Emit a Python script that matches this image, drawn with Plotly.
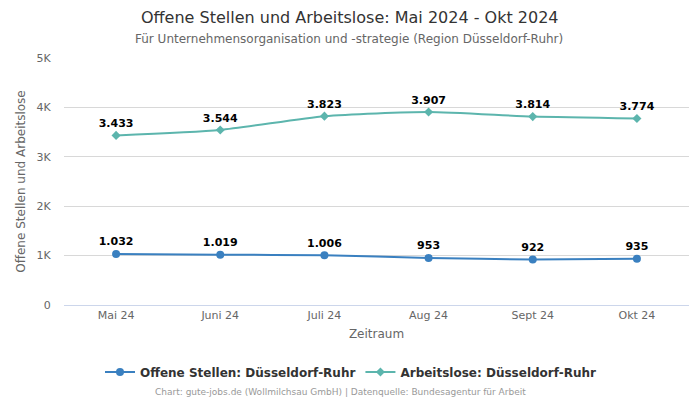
import plotly.graph_objects as go

months = ["Mai 24", "Juni 24", "Juli 24", "Aug 24", "Sept 24", "Okt 24"]
offene = [1032, 1019, 1006, 953, 922, 935]
arbeitslose = [3433, 3544, 3823, 3907, 3814, 3774]
ytick_vals = [0, 1000, 2000, 3000, 4000, 5000]
ytick_text = ["0", "1K", "2K", "3K", "4K", "5K"]

def fmt(v):
    return f"{v:,}".replace(",", ".")

font = "DejaVu Sans"
T, B, L, R = 58, 95, 64, 11
PH = 400 - T - B
PW = 700 - L - R

def py(pix):
    return (400 - B - pix) / PH

def px(pix):
    return (pix - L) / PW

fig = go.Figure()
fig.add_trace(go.Scatter(
    x=months, y=offene, name="Offene Stellen: Düsseldorf-Ruhr",
    mode="lines+markers+text", line=dict(color="#3a80c0", width=2, shape="spline", smoothing=0.6),
    marker=dict(size=8, symbol="circle", color="#3a80c0"),
    text=[fmt(v) for v in offene], textposition="top center",
    textfont=dict(family=font, size=11, color="#000000", weight="bold"),
))
fig.add_trace(go.Scatter(
    x=months, y=arbeitslose, name="Arbeitslose: Düsseldorf-Ruhr",
    mode="lines+markers+text", line=dict(color="#5cb5ad", width=2, shape="spline", smoothing=0.6),
    marker=dict(size=7, symbol="diamond", color="#5cb5ad"),
    text=[fmt(v) for v in arbeitslose], textposition="top center",
    textfont=dict(family=font, size=11, color="#000000", weight="bold"),
))

fig.update_layout(
    width=700, height=400,
    margin=dict(l=L, r=R, t=T, b=B, autoexpand=False),
    paper_bgcolor="white", plot_bgcolor="white",
    font=dict(family=font, color="#666666", size=11),
    xaxis=dict(
        automargin=False,
        showgrid=False, showline=True, linecolor="#ccd6eb", linewidth=1,
        ticks="", tickfont=dict(size=11, color="#666666"),
        title=dict(text="Zeitraum", font=dict(size=12, color="#666666"), standoff=8),
        range=[-0.5, 5.5],
    ),
    yaxis=dict(
        automargin=False,
        range=[0, 5000], tickvals=ytick_vals, ticktext=ytick_text,
        showgrid=True, gridcolor="#d8d8d8", gridwidth=1, zeroline=False,
        ticks="outside", ticklen=10, tickcolor="rgba(0,0,0,0)",
        tickfont=dict(size=11, color="#666666"),
        title=dict(text="Offene Stellen und Arbeitslose", font=dict(size=12, color="#666666"), standoff=8),
    ),
    legend=dict(
        orientation="h", xref="container", x=351 / 700, xanchor="center", y=py(372), yanchor="middle",
        font=dict(family=font, size=12, color="#333333", weight="bold"),
        itemwidth=30,
    ),
    showlegend=True,
)
fig.add_annotation(
    text="Offene Stellen und Arbeitslose: Mai 2024 - Okt 2024",
    xref="paper", yref="paper", x=px(350), y=py(17), xanchor="center", yanchor="middle",
    showarrow=False, font=dict(family=font, size=16, color="#333333"),
)
fig.add_annotation(
    text="Für Unternehmensorganisation und -strategie (Region Düsseldorf-Ruhr)",
    xref="paper", yref="paper", x=px(349), y=py(39), xanchor="center", yanchor="middle",
    showarrow=False, font=dict(family=font, size=12, color="#666666"),
)
fig.add_annotation(
    text="Chart: gute-jobs.de (Wollmilchsau GmbH) | Datenquelle: Bundesagentur für Arbeit",
    xref="paper", yref="paper", x=px(340), y=py(392), xanchor="center", yanchor="middle",
    showarrow=False, font=dict(family=font, size=9, color="#999999"),
)
fig.write_html(
    "out.html",
    config={"displayModeBar": False},
    post_script="document.body.style.margin='0';document.body.style.overflow='hidden';",
)
